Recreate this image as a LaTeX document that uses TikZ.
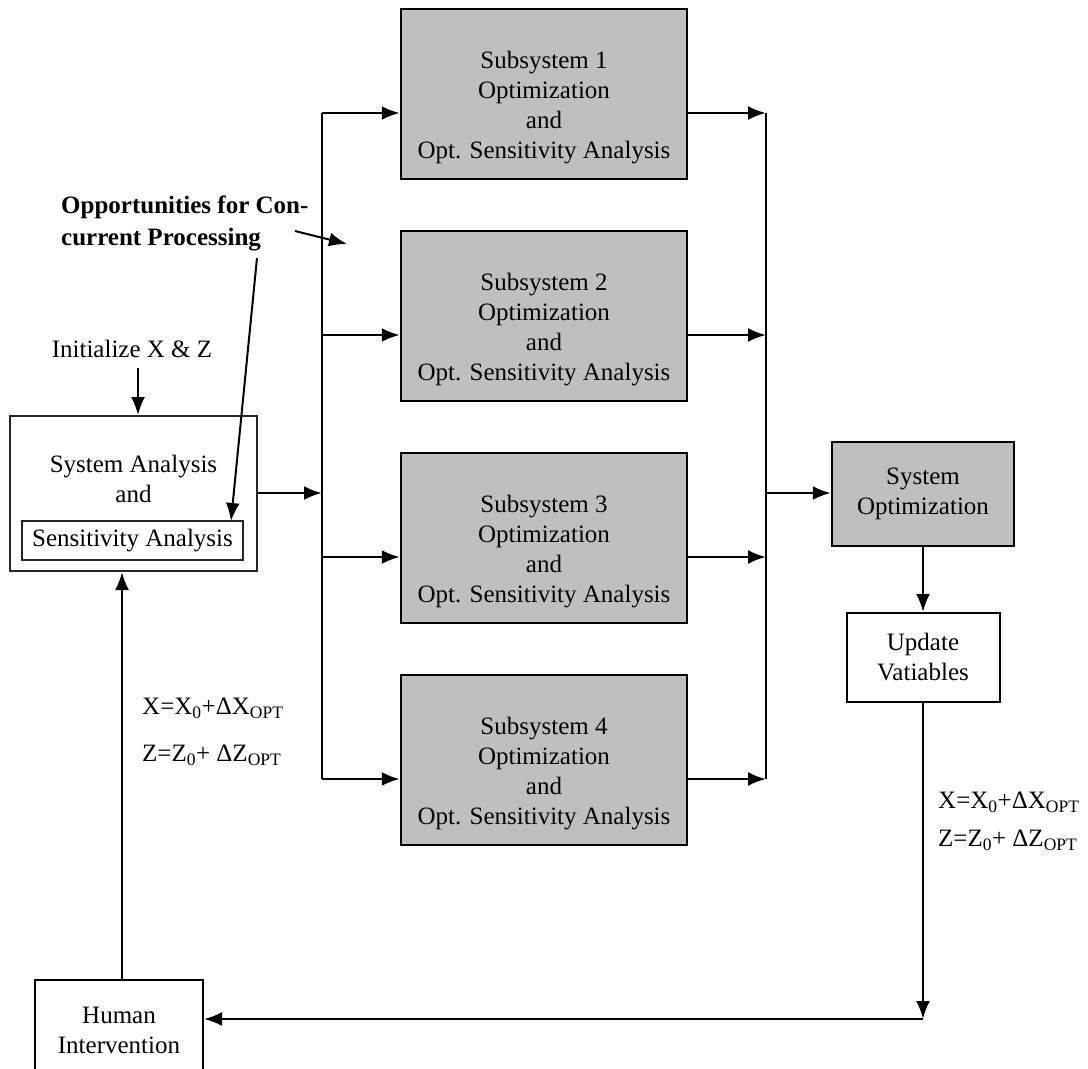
\documentclass[tikz,border=0pt]{standalone}
\usepackage{fontspec}
\setmainfont{Liberation Serif}
\usetikzlibrary{arrows.meta}
\begin{document}
\begin{tikzpicture}[x=1pt,y=-1pt,
  every node/.style={font=\fontsize{25}{30}\selectfont},
  sub/.style={draw, line width=2.5pt, fill=black!25, minimum width=286pt, minimum height=170pt, inner sep=0pt},
  plain/.style={draw, line width=2pt, align=center, inner sep=0pt},
  txt/.style={align=center, inner sep=0pt},
  arr/.style={line width=2.5pt, -{Latex[length=18pt,width=14pt]}},
  thin arr/.style={line width=2pt, -{Latex[length=18pt,width=14pt]}},
  ln/.style={line width=2.5pt}]
\useasboundingbox (0,0) rectangle (1088,1069);

% subsystem boxes
\node[sub] (s1) at (544,94) {};
\node[sub] (s2) at (544,316) {};
\node[sub] (s3) at (544,538) {};
\node[sub] (s4) at (544,760) {};
\node[txt, yshift=-14pt] (t1) at (s1) {Subsystem 1\\Optimization\\and\\Opt. Sensitivity Analysis};
\node[txt, yshift=-14pt] (t2) at (s2) {Subsystem 2\\Optimization\\and\\Opt. Sensitivity Analysis};
\node[txt, yshift=-14pt] (t3) at (s3) {Subsystem 3\\Optimization\\and\\Opt. Sensitivity Analysis};
\node[txt, yshift=-14pt] (t4) at (s4) {Subsystem 4\\Optimization\\and\\Opt. Sensitivity Analysis};

% left system analysis box
\node[plain, draw=black!85, minimum width=247pt, minimum height=155pt] (sa) at (133.5,493.5) {};
\node[txt] (satext) at (133.5,479) {System Analysis\\and};
\node[plain, draw=black!85, minimum width=221pt, minimum height=39pt] (sens) at (132.5,540.5) {Sensitivity Analysis};

% initialize
\node[txt] (init) at (132,349) {Initialize X \& Z};
\coordinate (initA) at (138,368);
\draw[thin arr] (initA) -- (initA |- sa.north);

% annotation
\node[txt, anchor=base west, font=\fontsize{25}{32}\selectfont\bfseries, align=left] (opp) at (61,245) {Opportunities for Con-\\current Processing};
\coordinate (oppA) at (295,231);
\coordinate (oppB) at (347,244);
\draw[thin arr] (oppA) -- (oppB);
\coordinate (oppC) at (257,258);
\coordinate (oppD) at (231,521);
\draw[thin arr] (oppC) -- (oppD);

% buses
\coordinate (lb1) at (322,113);
\coordinate (lb2) at (322,335);
\coordinate (lb3) at (322,557);
\coordinate (lb4) at (322,779);
\coordinate (lbm) at (322,493);
\coordinate (rb1) at (766,113);
\coordinate (rb2) at (766,335);
\coordinate (rb3) at (766,557);
\coordinate (rb4) at (766,779);
\coordinate (rbm) at (766,493);
\draw[ln] (lb1) -- (lb4);
\draw[ln] (rb1) -- (rb4);
\draw[arr] (lb1) -- (s1.west |- lb1);
\draw[arr] (lb2) -- (s2.west |- lb2);
\draw[arr] (lb3) -- (s3.west |- lb3);
\draw[arr] (lb4) -- (s4.west |- lb4);
\draw[arr] (s1.east |- rb1) -- (rb1);
\draw[arr] (s2.east |- rb2) -- (rb2);
\draw[arr] (s3.east |- rb3) -- (rb3);
\draw[arr] (s4.east |- rb4) -- (rb4);
\draw[arr] (sa.east |- lbm) -- (lbm);

% system optimization
\node[sub, align=center, minimum width=182pt, minimum height=104pt] (so) at (923,494) {System\\Optimization};
\draw[arr] (rbm) -- (so.west |- rbm);
\node[plain, minimum width=153pt, minimum height=89pt] (up) at (923,657.5) {Update\\Vatiables};
\draw[arr] (so.south) -- (up.north);

% human intervention
\node[plain, minimum width=168pt, minimum height=100pt] (hi) at (119,1030) {Human\\Intervention};
\coordinate (corner) at (923,1019);
\draw[arr] (up.south) -- (corner);
\draw[arr] (corner) -- (hi.east |- corner);
\draw[arr] (hi.north -| 122,0) -- (sa.south -| 122,0);

% formulas
\node[txt, anchor=west] (fl1) at (142,708) {X=X\textsubscript{0}+ΔX\textsubscript{OPT}};
\node[txt, anchor=west] (fl2) at (142,755) {Z=Z\textsubscript{0}+ ΔZ\textsubscript{OPT}};
\node[txt, anchor=west] (fr1) at (938,802) {X=X\textsubscript{0}+ΔX\textsubscript{OPT}};
\node[txt, anchor=west] (fr2) at (938,840) {Z=Z\textsubscript{0}+ ΔZ\textsubscript{OPT}};
\end{tikzpicture}
\end{document}
